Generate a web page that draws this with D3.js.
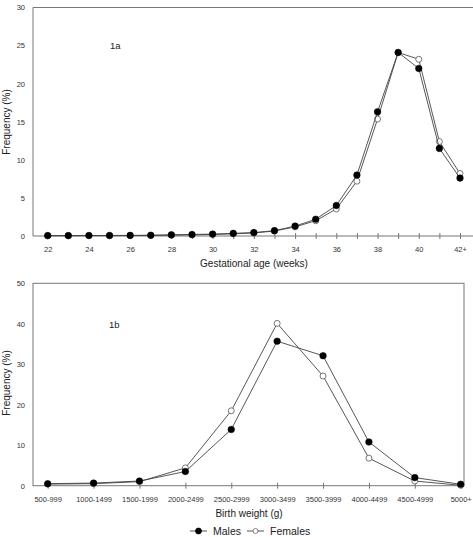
<!DOCTYPE html>
<html>
<head>
<meta charset="utf-8">
<script src="https://cdn.jsdelivr.net/npm/d3@7"></script>
<style>
  body { margin: 0; background: #fff; }
  svg { display: block; font-family: "Liberation Sans", Arial, sans-serif; }
  .tick text { fill: #333; }
</style>
</head>
<body>
<svg id="chart"></svg>
<script>
const width = 473, height = 537;
const svg = d3.select("#chart").attr("width", width).attr("height", height);

// Gestational age (weeks), 22 .. 42+
const weeks = [22, 23, 24, 25, 26, 27, 28, 29, 30, 31, 32, 33, 34, 35, 36, 37, 38, 39, 40, 41, 42];
const weekLabels = ["22", "24", "26", "28", "30", "32", "34", "36", "38", "40", "42+"];
const ageMales   = [0.05, 0.05, 0.06, 0.07, 0.08, 0.1, 0.15, 0.2, 0.25, 0.35, 0.45, 0.7, 1.3, 2.2, 4.0, 8.0, 16.3, 24.1, 22.0, 11.5, 7.6];
const ageFemales = [0.03, 0.04, 0.05, 0.05, 0.06, 0.08, 0.12, 0.15, 0.2, 0.28, 0.4, 0.65, 1.2, 2.0, 3.55, 7.2, 15.35, 24.1, 23.2, 12.4, 8.2];

// Birth weight (g)
const weightCats = ["500-999", "1000-1499", "1500-1999", "2000-2499", "2500-2999", "3000-3499", "3500-3999", "4000-4499", "4500-4999", "5000+"];
const weightMales   = [0.5, 0.65, 1.15, 3.5, 13.9, 35.7, 32.1, 10.8, 2.0, 0.35];
const weightFemales = [0.4, 0.5, 1.0, 4.4, 18.5, 40.1, 27.1, 6.8, 1.15, 0.1];

const axisColor = "#777";
const lineColor = "#444";

function styleAxis(g) {
  g.selectAll(".domain").attr("stroke", axisColor);
  g.selectAll(".tick line").attr("stroke", axisColor);
  g.selectAll(".tick text").attr("font-size", 7.5);
}

function drawSeries(g, pts, filled) {
  g.append("path")
    .datum(pts)
    .attr("fill", "none")
    .attr("stroke", lineColor)
    .attr("stroke-width", 0.9)
    .attr("d", d3.line().x(d => d[0]).y(d => d[1]));
  g.selectAll(null)
    .data(pts)
    .join("circle")
    .attr("cx", d => d[0])
    .attr("cy", d => d[1])
    .attr("r", filled ? 3.3 : 3)
    .attr("fill", filled ? "#000" : "#fff")
    .attr("stroke", filled ? "#000" : "#555")
    .attr("stroke-width", filled ? 0.5 : 0.8);
}

// ---------- 1a: gestational age ----------
const ageY = d3.scaleLinear().domain([0, 30]).range([236, 7.5]);
const ageX = d3.scaleLinear().domain([22, 42]).range([47.7, 460]);

const ageG = svg.append("g");
// frame: top border, right side runs off the picture
ageG.append("path")
  .attr("d", `M33,236V7.5H${width + 1}`)
  .attr("fill", "none").attr("stroke", axisColor);

const tyAxis = ageG.append("g").attr("transform", "translate(33,0)")
  .call(d3.axisLeft(ageY).tickValues([0, 5, 10, 15, 20, 25, 30]).tickSize(0).tickPadding(8));
tyAxis.select(".domain").remove();
styleAxis(tyAxis);

const txAxis = ageG.append("g").attr("transform", "translate(0,236)")
  .call(d3.axisBottom(ageX).tickValues(weeks).tickSize(3).tickPadding(8)
    .tickFormat(d => (d - 22) % 2 === 0 ? weekLabels[(d - 22) / 2] : ""));
txAxis.select(".domain").attr("d", `M33,0H${width + 1}`);
txAxis.selectAll(".tick line").attr("y1", -3);
styleAxis(txAxis);

drawSeries(ageG, weeks.map((w, i) => [ageX(w), ageY(ageFemales[i])]), false);
drawSeries(ageG, weeks.map((w, i) => [ageX(w), ageY(ageMales[i])]), true);

ageG.append("text").attr("x", 110).attr("y", 49).attr("font-size", 9.5).attr("fill", "#222").text("1a");
ageG.append("text").attr("x", 254).attr("y", 267).attr("text-anchor", "middle")
  .attr("font-size", 10).attr("fill", "#222").text("Gestational age (weeks)");
ageG.append("text").attr("transform", "translate(10,122) rotate(-90)").attr("text-anchor", "middle")
  .attr("font-size", 10).attr("fill", "#222").text("Frequency (%)");

// ---------- 1b: birth weight ----------
const wY = d3.scaleLinear().domain([0, 50]).range([485.7, 283.3]);
const wX = d3.scalePoint().domain(weightCats).range([47.7, 460.7]);

const wG = svg.append("g");
wG.append("rect").attr("x", 33).attr("y", 283.3).attr("width", 464 - 33).attr("height", 485.7 - 283.3)
  .attr("fill", "none").attr("stroke", axisColor);

const byAxis = wG.append("g").attr("transform", "translate(33,0)")
  .call(d3.axisLeft(wY).tickValues([0, 10, 20, 30, 40, 50]).tickSize(0).tickPadding(8));
byAxis.select(".domain").remove();
styleAxis(byAxis);

const bxAxis = wG.append("g").attr("transform", "translate(0,485.7)")
  .call(d3.axisBottom(wX).tickSize(3).tickPadding(8));
bxAxis.select(".domain").remove();
bxAxis.selectAll(".tick line").attr("y1", -3);
styleAxis(bxAxis);

drawSeries(wG, weightCats.map((c, i) => [wX(c), wY(weightFemales[i])]), false);
drawSeries(wG, weightCats.map((c, i) => [wX(c), wY(weightMales[i])]), true);

wG.append("text").attr("x", 109).attr("y", 328).attr("font-size", 9.5).attr("fill", "#222").text("1b");
wG.append("text").attr("x", 249).attr("y", 517).attr("text-anchor", "middle")
  .attr("font-size", 10).attr("fill", "#222").text("Birth weight (g)");
wG.append("text").attr("transform", "translate(10,383) rotate(-90)").attr("text-anchor", "middle")
  .attr("font-size", 10).attr("fill", "#222").text("Frequency (%)");

// ---------- legend ----------
const legend = svg.append("g").attr("transform", "translate(0,531)");
const legendItems = [
  { name: "Males", filled: true, x: 190 },
  { name: "Females", filled: false, x: 247 }
];
legendItems.forEach(it => {
  legend.append("line").attr("x1", it.x).attr("x2", it.x + 17).attr("y1", 0).attr("y2", 0)
    .attr("stroke", lineColor).attr("stroke-width", 0.9);
  legend.append("circle").attr("cx", it.x + 8.5).attr("cy", 0)
    .attr("r", it.filled ? 3 : 2.5)
    .attr("fill", it.filled ? "#000" : "#fff")
    .attr("stroke", it.filled ? "#000" : "#555").attr("stroke-width", 0.7);
  legend.append("text").attr("x", it.x + 23).attr("y", 4).attr("font-size", 10.5).attr("fill", "#222").text(it.name);
});
</script>
</body>
</html>
